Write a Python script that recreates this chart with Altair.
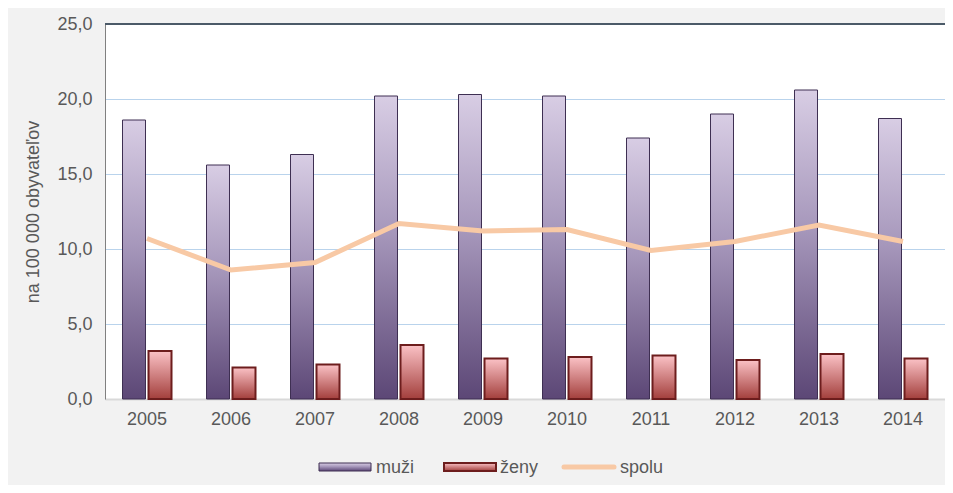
import altair as alt
import pandas as pd

years = ["2005", "2006", "2007", "2008", "2009", "2010", "2011", "2012", "2013", "2014"]
muzi = [18.6, 15.6, 16.3, 20.2, 20.3, 20.2, 17.4, 19.0, 20.6, 18.7]
zeny = [3.2, 2.1, 2.3, 3.6, 2.7, 2.8, 2.9, 2.6, 3.0, 2.7]
spolu = [10.7, 8.6, 9.1, 11.7, 11.2, 11.3, 9.9, 10.5, 11.6, 10.5]

df = pd.DataFrame({"rok": years, "muzi": muzi, "zeny": zeny, "spolu": spolu})

FONT = "Liberation Sans"
TXT = "#595959"
FS = 18

grad_m = alt.Gradient(gradient="linear",
                      stops=[alt.GradientStop(color="#d8cde4", offset=0),
                             alt.GradientStop(color="#a697bb", offset=0.45),
                             alt.GradientStop(color="#5c4776", offset=1)],
                      x1=0, x2=0, y1=0, y2=1)
grad_z = alt.Gradient(gradient="linear",
                      stops=[alt.GradientStop(color="#fbc2c6", offset=0),
                             alt.GradientStop(color="#a33f3c", offset=1)],
                      x1=0, x2=0, y1=0, y2=1)

x_enc = alt.X("rok:N", sort=years, title=None,
              scale=alt.Scale(paddingInner=0.4, paddingOuter=0.2),
              axis=alt.Axis(labelAngle=0, labelFont=FONT, labelFontSize=FS, labelColor=TXT,
                            labelPadding=11, ticks=False, domainColor="#d9d9d9", domainWidth=2))
y_scale = alt.Scale(domain=[0, 25])
y_axis = alt.Axis(values=[0, 5, 10, 15, 20, 25], title="na 100 000 obyvateľov",
                  labelExpr="replace(format(datum.value, '.1f'), '.', ',')",
                  labelFont=FONT, labelFontSize=FS, labelColor=TXT, labelPadding=13,
                  titleFont=FONT, titleFontSize=FS, titleColor=TXT, titleFontWeight="normal",
                  titlePadding=14, ticks=False, domainColor="#808080",
                  gridColor="#b9d3ec", gridWidth=1)

base = alt.Chart(df)

bars_m = base.mark_bar(width=23, xOffset=-13, fill=grad_m, stroke="#3e2f52", strokeWidth=1).encode(
    x=x_enc, y=alt.Y("muzi:Q", scale=y_scale, axis=y_axis))
bars_z = base.mark_bar(width=23, xOffset=13, fill=grad_z, stroke="#6d1d1d", strokeWidth=2).encode(
    x=x_enc, y=alt.Y("zeny:Q", scale=y_scale, axis=y_axis))
line = base.mark_line(color="#f8c9a5", strokeWidth=5).encode(
    x=x_enc, y=alt.Y("spolu:Q", scale=y_scale, axis=y_axis))
top_rule = alt.Chart(pd.DataFrame({"v": [25]})).mark_rule(color="#4b5a68", strokeWidth=2).encode(
    y=alt.Y("v:Q", scale=y_scale, axis=y_axis))

# manual legend
leg_labels = ["muži", "ženy", "spolu"]
leg_df = pd.DataFrame({"k": [0]})
lb = alt.Chart(leg_df)
lm = lb.mark_rect(fill=grad_m, stroke="#3e2f52", strokeWidth=1).encode(
    x=alt.value(214), x2=alt.value(266), y=alt.value(439), y2=alt.value(447))
lz = lb.mark_rect(fill=grad_z, stroke="#6d1d1d", strokeWidth=2).encode(
    x=alt.value(339), x2=alt.value(391), y=alt.value(439), y2=alt.value(447))
ls = lb.mark_rule(color="#f8c9a5", strokeWidth=5, strokeCap="round").encode(
    x=alt.value(459), x2=alt.value(509), y=alt.value(443))
t1 = lb.mark_text(text=leg_labels[0], align="left", baseline="middle", font=FONT, fontSize=FS, color=TXT).encode(
    x=alt.value(271), y=alt.value(444))
t2 = lb.mark_text(text=leg_labels[1], align="left", baseline="middle", font=FONT, fontSize=FS, color=TXT).encode(
    x=alt.value(395), y=alt.value(444))
t3 = lb.mark_text(text=leg_labels[2], align="left", baseline="middle", font=FONT, fontSize=FS, color=TXT).encode(
    x=alt.value(515), y=alt.value(444))

chart = alt.layer(bars_m, bars_z, line, top_rule, lm, lz, ls, t1, t2, t3).properties(
    width=840, height=375,
    autosize=alt.AutoSizeParams(type="none"),
    padding={"left": 97, "top": 16, "right": 0, "bottom": 86},
    background="#f2f2f2",
).configure_view(fill="white", stroke=None)

chart.save("out.html", embed_options={"renderer": "svg", "actions": False})
